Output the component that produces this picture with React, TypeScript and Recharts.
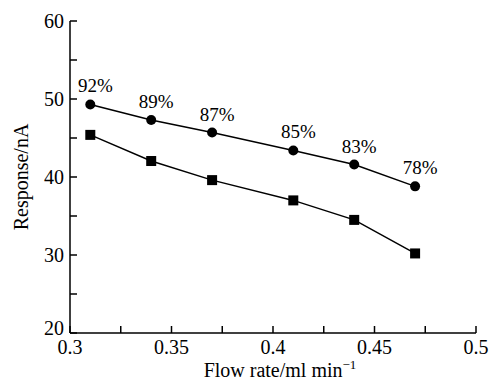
import { LineChart, Line, XAxis, YAxis, LabelList } from "recharts";

const flowRates = [0.31, 0.34, 0.37, 0.41, 0.44, 0.47];
const circleResponse = [49.3, 47.3, 45.7, 43.4, 41.6, 38.8];
const squareResponse = [45.4, 42.05, 39.6, 37.0, 34.5, 30.2];
const recoveryLabels = ["92%", "89%", "87%", "85%", "83%", "78%"];

const xTicks = [0.3, 0.325, 0.35, 0.375, 0.4, 0.425, 0.45, 0.475, 0.5];
const xTickLabels: Record<string, string> = {
  "0.3": "0.3",
  "0.35": "0.35",
  "0.4": "0.4",
  "0.45": "0.45",
  "0.5": "0.5",
};
const yTicks = [20, 25, 30, 35, 40, 45, 50, 55, 60];
const yTickLabels: Record<string, string> = {
  "20": "20",
  "30": "30",
  "40": "40",
  "50": "50",
  "60": "60",
};

const data = flowRates.map((x, i) => ({
  x,
  circle: circleResponse[i],
  square: squareResponse[i],
  pct: recoveryLabels[i],
}));

const FONT = "'Liberation Serif', 'Times New Roman', serif";
const TICK_LEN = 7;
const txt = { fontFamily: FONT, fill: "#000" };

function XTick(props: any) {
  const { x, y, payload } = props;
  const label = xTickLabels[String(+payload.value.toFixed(3))] ?? "";
  return (
    <g>
      <line x1={x} x2={x} y1={y} y2={y - TICK_LEN} stroke="#000" strokeWidth={1.5} />
      {label && (
        <text x={x} y={y + 21} textAnchor="middle" fontSize={20} style={txt}>
          {label}
        </text>
      )}
    </g>
  );
}

function YTick(props: any) {
  const { x, y, payload } = props;
  const label = yTickLabels[String(payload.value)] ?? "";
  // bottom label sits a little higher so it clears the x-axis labels
  const dy = payload.value === 20 ? 2 : 7;
  return (
    <g>
      <line x1={x} x2={x + TICK_LEN} y1={y} y2={y} stroke="#000" strokeWidth={1.5} />
      {label && (
        <text x={x - 6} y={y + dy} textAnchor="end" fontSize={20} style={txt}>
          {label}
        </text>
      )}
    </g>
  );
}

function SquareDot(props: any) {
  const { cx, cy } = props;
  if (cx == null || cy == null) return null;
  return <rect x={cx - 5} y={cy - 5} width={10} height={10} fill="#000" />;
}

function CircleDot(props: any) {
  const { cx, cy } = props;
  if (cx == null || cy == null) return null;
  return <circle cx={cx} cy={cy} r={5} fill="#000" />;
}

function PctLabel(props: any) {
  const { x, y, value } = props;
  return (
    <text x={x + 5} y={y - 12} textAnchor="middle" fontSize={19} style={txt}>
      {value}
    </text>
  );
}

export default function App() {
  return (
    <div style={{ position: "absolute", left: 0, top: 0, background: "#fff" }}>
      <LineChart
        width={491}
        height={385}
        data={data}
        margin={{ top: 21, right: 15, left: 69, bottom: 51 }}
      >
        <XAxis
          dataKey="x"
          type="number"
          domain={[0.3, 0.5]}
          ticks={xTicks}
          height={1}
          tickSize={0}
          tickMargin={0}
          tickLine={false}
          tick={<XTick />}
          axisLine={{ stroke: "#000", strokeWidth: 1.5 }}
          interval={0}
          label={{
            content: (p: any) => {
              const vb = p.viewBox;
              return (
                <text
                  x={vb.x + vb.width / 2 + 7}
                  y={vb.y + 44}
                  textAnchor="middle"
                  fontSize={20}
                  style={txt}
                >
                  Flow rate/ml min
                  <tspan fontSize={13} dy={-8}>
                    −1
                  </tspan>
                </text>
              );
            },
          }}
        />
        <YAxis
          type="number"
          domain={[20, 60]}
          ticks={yTicks}
          width={1}
          tickSize={0}
          tickMargin={0}
          tickLine={false}
          tick={<YTick />}
          axisLine={{ stroke: "#000", strokeWidth: 1.5 }}
          interval={0}
          label={{
            content: (p: any) => {
              const vb = p.viewBox;
              const cx = vb.x + vb.width - 49;
              const cy = vb.y + vb.height / 2;
              return (
                <text
                  x={cx}
                  y={cy}
                  transform={`rotate(-90 ${cx} ${cy})`}
                  textAnchor="middle"
                  dominantBaseline="central"
                  fontSize={20}
                  style={txt}
                >
                  Response/nA
                </text>
              );
            },
          }}
        />
        <Line
          type="linear"
          dataKey="circle"
          stroke="#000"
          strokeWidth={1.5}
          dot={<CircleDot />}
          activeDot={false}
          isAnimationActive={false}
        >
          <LabelList dataKey="pct" content={<PctLabel />} />
        </Line>
        <Line
          type="linear"
          dataKey="square"
          stroke="#000"
          strokeWidth={1.5}
          dot={<SquareDot />}
          activeDot={false}
          isAnimationActive={false}
        />
      </LineChart>
    </div>
  );
}
